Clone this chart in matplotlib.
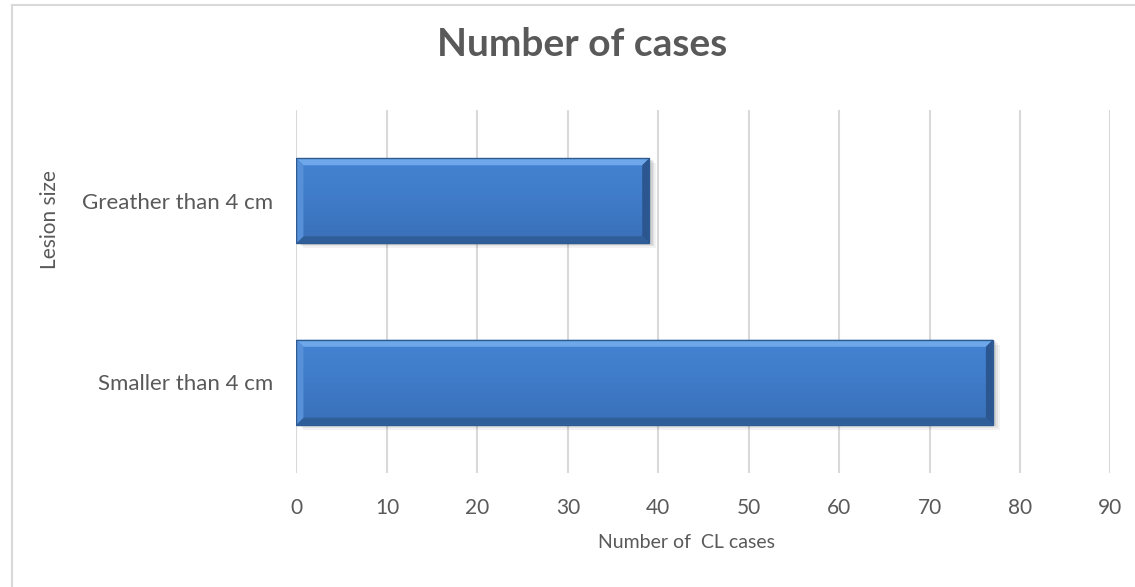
import numpy as np
import matplotlib.pyplot as plt
from matplotlib.patches import Polygon, Rectangle

categories = ["Smaller than 4 cm", "Greather than 4 cm"]
cases = [77, 39]
x_ticks = [0, 10, 20, 30, 40, 50, 60, 70, 80, 90]

plt.rcParams["font.family"] = ["Lato", "DejaVu Sans"]
TEXT = "#595959"
GRID = "#D9D9D9"

fig = plt.figure(figsize=(11.35, 5.87), dpi=100)
ax = fig.add_axes([0.2612, 0.1942, 0.7172, 0.6184])

# outer chart frame
fig.patches.append(Rectangle((12 / 1135, -0.05), 1.1, 1 - 5 / 587 + 0.05,
                             transform=fig.transFigure, fill=False,
                             edgecolor=GRID, linewidth=1.5))

ax.set_xlim(0, 90)
ax.set_ylim(-0.5, 1.5)
ax.set_xticks(x_ticks)
ax.set_yticks(range(len(categories)))
ax.set_yticklabels(categories)
ax.tick_params(length=0, labelcolor=TEXT)
ax.tick_params(axis="x", pad=18, labelsize=15)
ax.tick_params(axis="y", pad=17, labelsize=16)
for s in ax.spines.values():
    s.set_visible(False)
ax.grid(True, axis="x", color=GRID, linewidth=1.5)
ax.set_axisbelow(True)

# bevel sizes in data units
ax_w = 0.7172 * 1135
ax_h = 0.6184 * 587
bx = 7 / ax_w * 90
by = 7 / ax_h * 2
height = 0.468

grad = np.linspace(0, 1, 64).reshape(-1, 1)
face_cmap = plt.matplotlib.colors.LinearSegmentedColormap.from_list(
    "face", ["#3A70B8", "#3F7BC8", "#4483D2"])

for i, v in enumerate(cases):
    y0, y1 = i - height / 2, i + height / 2
    # soft drop shadow
    for k, a in enumerate([0.05, 0.06, 0.08]):
        off = (3 - k) * 1.6
        ax.add_patch(Rectangle((0.2 + off / ax_w * 90, y0 - off / ax_h * 2),
                               v, height, facecolor="black", alpha=a,
                               edgecolor="none", zorder=2))
    ax.add_patch(Rectangle((0, y0), v, height, facecolor="#3F7BC8",
                           edgecolor="none", zorder=3))
    im = ax.imshow(grad, extent=(0, v, y0, y1), origin="lower", cmap=face_cmap,
                   aspect="auto", zorder=3.1, interpolation="bilinear")
    im.set_clip_path(Rectangle((0, y0), v, height, transform=ax.transData))
    top = Polygon([(0, y1), (v, y1), (v - bx, y1 - by), (bx, y1 - by)],
                  closed=True, facecolor="#6EA8EA", edgecolor="none", zorder=4)
    bottom = Polygon([(0, y0), (v, y0), (v - bx, y0 + by), (bx, y0 + by)],
                     closed=True, facecolor="#2F5E99", edgecolor="none", zorder=4)
    left = Polygon([(0, y0), (0, y1), (bx, y1 - by), (bx, y0 + by)],
                   closed=True, facecolor="#5690D8", edgecolor="none", zorder=4)
    right = Polygon([(v, y0), (v, y1), (v - bx, y1 - by), (v - bx, y0 + by)],
                    closed=True, facecolor="#2C5690", edgecolor="none", zorder=4)
    for p in (top, bottom, left, right):
        ax.add_patch(p)
    ax.add_patch(Rectangle((0, y0), v, height, fill=False,
                           edgecolor="#2E5A92", linewidth=1.0, zorder=5))

fig.text(582 / 1135, 1 - 45 / 587, "Number of cases", ha="center", va="center",
         fontsize=28, fontweight="bold", color=TEXT)
fig.text(687 / 1135, 1 - 543 / 587, "Number of  CL cases", ha="center",
         va="center", fontsize=14, color=TEXT)
fig.text(50 / 1135, 1 - 220 / 587, "Lesion size", ha="center", va="center",
         rotation=90, fontsize=15, color=TEXT)

fig.savefig("out.png", dpi=100)
